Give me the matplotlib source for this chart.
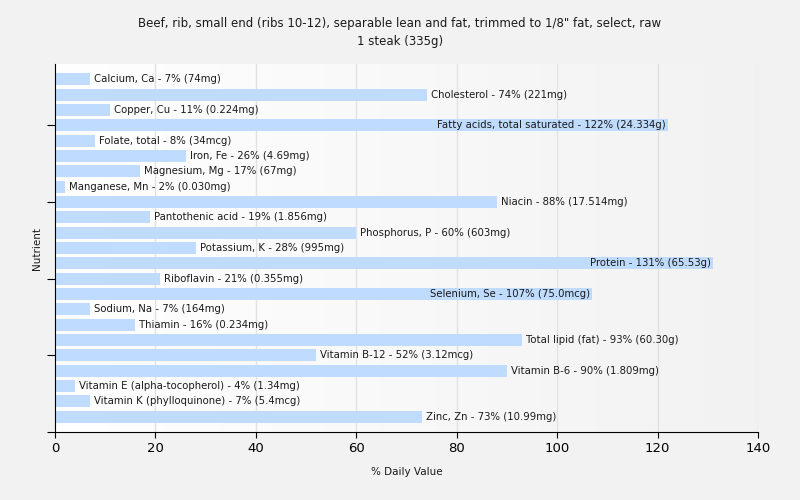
import matplotlib
matplotlib.use("Agg")
import matplotlib.pyplot as plt
import numpy as np
from matplotlib.colors import LinearSegmentedColormap
from matplotlib import transforms

# Data
nutrients = [
    "Calcium, Ca", "Cholesterol", "Copper, Cu", "Fatty acids, total saturated",
    "Folate, total", "Iron, Fe", "Magnesium, Mg", "Manganese, Mn", "Niacin",
    "Pantothenic acid", "Phosphorus, P", "Potassium, K", "Protein", "Riboflavin",
    "Selenium, Se", "Sodium, Na", "Thiamin", "Total lipid (fat)", "Vitamin B-12",
    "Vitamin B-6", "Vitamin E (alpha-tocopherol)", "Vitamin K (phylloquinone)",
    "Zinc, Zn",
]
percent_dv = [7, 74, 11, 122, 8, 26, 17, 2, 88, 19, 60, 28, 131, 21, 107, 7, 16,
              93, 52, 90, 4, 7, 73]
amounts = ["74mg", "221mg", "0.224mg", "24.334g", "34mcg", "4.69mg", "67mg",
           "0.030mg", "17.514mg", "1.856mg", "603mg", "995mg", "65.53g",
           "0.355mg", "75.0mcg", "164mg", "0.234mg", "60.30g", "3.12mcg",
           "1.809mg", "1.34mg", "5.4mcg", "10.99mg"]

BAR_COLOUR = "#bfdbfd"
TEXT_COLOUR = "#1a1a1a"
BG_COLOUR = "#f2f2f2"

fig = plt.figure(figsize=(8, 5), dpi=100)
fig.patch.set_facecolor(BG_COLOUR)
ax = fig.add_axes([0.06875, 0.136, 0.87875, 0.736])

# ── Background gradient (white -> light grey) ─────────────────
grad = LinearSegmentedColormap.from_list("bg", ["#ffffff", BG_COLOUR])
ax.imshow(np.linspace(0, 1, 256).reshape(1, -1), cmap=grad, aspect="auto",
          extent=[0, 1, 0, 1], transform=ax.transAxes, zorder=0)

ypos = np.arange(len(nutrients))
ax.barh(ypos, percent_dv, height=0.78, color=BAR_COLOUR, zorder=2)

# ── Labels ───────────────────────────────────────────────────
for y, name, pct, amt in zip(ypos, nutrients, percent_dv, amounts):
    label = f"{name} - {pct}% ({amt})"
    if pct > 100:
        off = transforms.offset_copy(ax.transData, fig=fig, x=-2, y=0, units="dots")
        ax.text(pct, y, label, ha="right", va="center", fontsize=7.3,
                color=TEXT_COLOUR, transform=off, zorder=3)
    else:
        off = transforms.offset_copy(ax.transData, fig=fig, x=4, y=0, units="dots")
        ax.text(pct, y, label, ha="left", va="center", fontsize=7.3,
                color=TEXT_COLOUR, transform=off, zorder=3)

ax.set_xlim(0, 140)
ax.set_ylim(23, -1)
ax.set_xticks(np.arange(0, 141, 20))
ax.set_yticks(np.arange(3, 24, 5))
ax.set_yticklabels([])
ax.tick_params(axis="x", labelsize=9.5, length=4, color="black", pad=3)
ax.tick_params(axis="y", length=6, color="black")
for x in np.arange(20, 141, 20):
    ax.axvline(x, color="#e2e2e2", lw=1, zorder=1)

for side in ("top", "right"):
    ax.spines[side].set_visible(False)
ax.spines["left"].set_color("black")
ax.spines["bottom"].set_color("black")

ax.set_xlabel("% Daily Value", fontsize=7.5, color=TEXT_COLOUR, labelpad=9)
ax.set_ylabel("Nutrient", fontsize=7.5, color=TEXT_COLOUR, labelpad=0)
fig.suptitle("Beef, rib, small end (ribs 10-12), separable lean and fat, trimmed to 1/8\" fat, select, raw\n1 steak (335g)",
             fontsize=8.5, color=TEXT_COLOUR, y=0.965, linespacing=1.5)

fig.savefig("out.png", dpi=100, facecolor=fig.get_facecolor())
